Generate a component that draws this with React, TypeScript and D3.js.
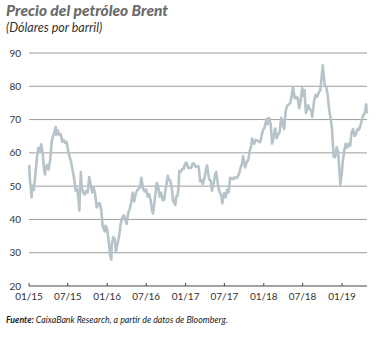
import React from "react";
import * as d3 from "d3";

const brent2015: [string, number][] = [
  ["2015-01-02", 56.4], ["2015-01-06", 51.1], ["2015-01-09", 50.1], ["2015-01-13", 46.6], ["2015-01-16", 50.2], ["2015-01-23", 48.8], ["2015-01-30", 53.0],
  ["2015-02-06", 57.8], ["2015-02-13", 61.5], ["2015-02-20", 60.2], ["2015-02-27", 62.6], ["2015-03-06", 59.7], ["2015-03-13", 54.7],
  ["2015-03-17", 53.5], ["2015-03-20", 55.3], ["2015-03-27", 56.4], ["2015-04-02", 55.0], ["2015-04-10", 57.9], ["2015-04-17", 63.5],
  ["2015-04-24", 65.3], ["2015-05-01", 66.5], ["2015-05-06", 67.8], ["2015-05-08", 65.4], ["2015-05-15", 66.8], ["2015-05-22", 65.4],
  ["2015-05-29", 65.6], ["2015-06-05", 63.3], ["2015-06-12", 63.9], ["2015-06-19", 63.0], ["2015-06-26", 63.3], ["2015-07-03", 60.3],
  ["2015-07-10", 58.7], ["2015-07-17", 57.1], ["2015-07-24", 54.6], ["2015-07-31", 52.2], ["2015-08-07", 48.6], ["2015-08-14", 49.2],
  ["2015-08-21", 45.5], ["2015-08-24", 42.7], ["2015-08-28", 50.1], ["2015-08-31", 54.2], ["2015-09-04", 49.6], ["2015-09-11", 48.1],
  ["2015-09-18", 47.5], ["2015-09-25", 48.6], ["2015-10-02", 48.1], ["2015-10-09", 52.7], ["2015-10-16", 50.5], ["2015-10-23", 48.1],
  ["2015-10-30", 49.6], ["2015-11-06", 47.4], ["2015-11-13", 43.6], ["2015-11-20", 44.7], ["2015-11-27", 44.9], ["2015-12-04", 43.0],
  ["2015-12-11", 37.9], ["2015-12-18", 36.9], ["2015-12-21", 36.4], ["2015-12-24", 38.1], ["2015-12-31", 37.3],
];

const brent2016: [string, number][] = [
  ["2016-01-08", 33.6], ["2016-01-15", 28.9], ["2016-01-20", 27.9], ["2016-01-22", 32.2], ["2016-01-29", 34.7], ["2016-02-05", 34.1],
  ["2016-02-11", 30.1], ["2016-02-19", 33.0], ["2016-02-26", 35.1], ["2016-03-04", 38.7], ["2016-03-11", 40.4], ["2016-03-18", 41.2],
  ["2016-03-24", 40.4], ["2016-04-01", 38.7], ["2016-04-08", 41.9], ["2016-04-15", 43.1], ["2016-04-22", 45.1], ["2016-04-29", 48.1],
  ["2016-05-06", 45.4], ["2016-05-13", 47.8], ["2016-05-20", 48.7], ["2016-05-27", 49.3], ["2016-06-03", 49.6], ["2016-06-08", 52.5],
  ["2016-06-17", 49.2], ["2016-06-24", 48.4], ["2016-07-01", 49.0], ["2016-07-08", 46.8], ["2016-07-15", 47.6], ["2016-07-22", 45.7],
  ["2016-07-29", 42.5], ["2016-08-02", 41.8], ["2016-08-12", 47.0], ["2016-08-19", 50.9], ["2016-08-26", 49.9], ["2016-09-02", 46.8],
  ["2016-09-09", 48.0], ["2016-09-16", 45.8], ["2016-09-23", 45.9], ["2016-09-30", 49.1], ["2016-10-07", 51.9], ["2016-10-10", 53.1],
  ["2016-10-14", 51.95], ["2016-10-21", 51.8], ["2016-10-28", 49.7], ["2016-11-04", 45.6], ["2016-11-14", 44.4], ["2016-11-18", 46.9],
  ["2016-11-25", 47.2], ["2016-11-30", 50.5], ["2016-12-02", 54.5], ["2016-12-09", 54.3], ["2016-12-16", 55.2], ["2016-12-23", 55.2],
  ["2016-12-30", 56.8],
];

const brent2017: [string, number][] = [
  ["2017-01-06", 57.1], ["2017-01-13", 55.5], ["2017-01-20", 55.5], ["2017-01-27", 55.5], ["2017-02-03", 56.8], ["2017-02-10", 56.7],
  ["2017-02-17", 55.8], ["2017-02-24", 56.0], ["2017-03-03", 55.9], ["2017-03-10", 51.4], ["2017-03-17", 51.8], ["2017-03-22", 50.6],
  ["2017-03-31", 52.8], ["2017-04-07", 55.2], ["2017-04-11", 56.2], ["2017-04-21", 52.0], ["2017-04-28", 51.7], ["2017-05-04", 48.6],
  ["2017-05-12", 50.8], ["2017-05-19", 53.6], ["2017-05-24", 54.2], ["2017-06-02", 49.95], ["2017-06-09", 48.2], ["2017-06-16", 47.4],
  ["2017-06-21", 44.8], ["2017-06-30", 47.9], ["2017-07-07", 46.7], ["2017-07-14", 48.9], ["2017-07-21", 48.1], ["2017-07-28", 52.5],
  ["2017-08-04", 52.4], ["2017-08-11", 52.1], ["2017-08-18", 52.7], ["2017-08-25", 52.4], ["2017-09-01", 52.75], ["2017-09-08", 53.8],
  ["2017-09-15", 55.6], ["2017-09-22", 56.9], ["2017-09-26", 59.0], ["2017-10-06", 55.6], ["2017-10-13", 57.2], ["2017-10-20", 57.75],
  ["2017-10-27", 60.4], ["2017-11-03", 62.1], ["2017-11-07", 64.3], ["2017-11-17", 62.7], ["2017-11-24", 63.9], ["2017-12-01", 63.7],
  ["2017-12-08", 63.4], ["2017-12-15", 63.2], ["2017-12-22", 65.3], ["2017-12-29", 66.9],
];

const brent2018: [string, number][] = [
  ["2018-01-05", 67.6], ["2018-01-12", 69.9], ["2018-01-15", 70.3], ["2018-01-19", 68.6], ["2018-01-26", 70.5], ["2018-02-02", 68.6],
  ["2018-02-09", 62.8], ["2018-02-16", 64.8], ["2018-02-23", 67.3], ["2018-03-02", 64.4], ["2018-03-09", 65.5], ["2018-03-16", 66.2],
  ["2018-03-23", 70.5], ["2018-03-29", 69.3], ["2018-04-06", 67.1], ["2018-04-13", 72.6], ["2018-04-20", 74.1], ["2018-04-27", 74.6],
  ["2018-05-04", 74.9], ["2018-05-11", 77.1], ["2018-05-17", 79.8], ["2018-05-25", 76.4], ["2018-06-01", 76.8], ["2018-06-08", 76.5],
  ["2018-06-15", 73.4], ["2018-06-22", 75.6], ["2018-06-29", 79.4], ["2018-07-06", 77.1], ["2018-07-10", 78.9], ["2018-07-13", 75.3],
  ["2018-07-17", 72.0], ["2018-07-27", 74.3], ["2018-08-03", 73.2], ["2018-08-10", 72.8], ["2018-08-15", 70.8], ["2018-08-24", 75.8],
  ["2018-08-31", 77.4], ["2018-09-07", 76.8], ["2018-09-14", 78.1], ["2018-09-21", 78.8], ["2018-09-28", 82.7], ["2018-10-03", 86.3],
  ["2018-10-12", 80.4], ["2018-10-19", 79.8], ["2018-10-26", 77.6], ["2018-11-02", 73.0], ["2018-11-09", 70.2], ["2018-11-16", 66.8],
  ["2018-11-23", 58.8], ["2018-11-30", 58.7], ["2018-12-07", 61.7], ["2018-12-14", 60.3], ["2018-12-21", 53.8], ["2018-12-24", 50.5],
  ["2018-12-28", 52.2], ["2018-12-31", 53.8],
];

const brent2019: [string, number][] = [
  ["2019-01-04", 57.1], ["2019-01-11", 60.5], ["2019-01-18", 62.7], ["2019-01-25", 61.6], ["2019-02-01", 62.75], ["2019-02-08", 62.1],
  ["2019-02-15", 66.25], ["2019-02-22", 67.1], ["2019-03-01", 65.1], ["2019-03-08", 65.7], ["2019-03-15", 67.2], ["2019-03-22", 67.0],
  ["2019-03-29", 68.4], ["2019-04-05", 70.3], ["2019-04-12", 71.55], ["2019-04-18", 71.97], ["2019-04-24", 74.6], ["2019-04-26", 72.2],
  ["2019-04-30", 72.4],
];

const yTicks = [20, 30, 40, 50, 60, 70, 80, 90];
const xTickDates = ["2015-01-01", "2015-07-01", "2016-01-01", "2016-07-01", "2017-01-01", "2017-07-01", "2018-01-01", "2018-07-01", "2019-01-01"];
const xTickLabels = ["01/15", "07/15", "01/16", "07/16", "01/17", "07/17", "01/18", "07/18", "01/19"];

const title = "Precio del petróleo Brent";
const subtitle = "(Dólares por barril)";
const sourceBold = "Fuente:";
const sourceText = " CaixaBank Research, a partir de datos de Bloomberg.";

const FONT = "Lato, 'Open Sans', sans-serif";

export default function App() {
  const W = 381, H = 338;
  const parse = d3.timeParse("%Y-%m-%d");
  const data = [...brent2015, ...brent2016, ...brent2017, ...brent2018, ...brent2019].map(
    ([d, v]) => ({ date: parse(d) as Date, value: v })
  );
  const x = d3.scaleTime()
    .domain([parse("2015-01-01") as Date, parse("2019-01-01") as Date])
    .range([29, 342]);
  const y = d3.scaleLinear().domain([20, 90]).range([286, 53]);
  const line = d3.line<{ date: Date; value: number }>()
    .x((d) => x(d.date))
    .y((d) => y(d.value));
  const x0 = 29, x1 = 367;

  return (
    <svg width={W} height={H} style={{ position: "absolute", left: 0, top: 0, background: "#fff" }}>
      <text x={6} y={15.5} fontFamily={FONT} fontWeight={900} fontStyle="italic" fontSize={15.5} fill="#6b6b6b">{title}</text>
      <text x={6} y={31.5} fontFamily={FONT} fontStyle="italic" fontSize={12.5} fill="#333">{subtitle}</text>

      {yTicks.map((t) => (
        <g key={t}>
          {t > 20 && <line x1={x0} x2={x1} y1={y(t)} y2={y(t)} stroke="#9e9e9e" strokeWidth={1} />}
          <text x={21} y={y(t) + 3.5} textAnchor="end" fontFamily={FONT} fontSize={10} fill="#333">{t}</text>
        </g>
      ))}

      <path d={line(data) || ""} fill="none" stroke="#b6c4c9" strokeWidth={2.6} strokeLinejoin="round" />

      <line x1={x0} x2={x1} y1={y(20)} y2={y(20)} stroke="#444" strokeWidth={1} />
      {xTickDates.map((d, i) => {
        const xx = x(parse(d) as Date);
        return (
          <g key={d}>
            <line x1={xx} x2={xx} y1={y(20) - 3} y2={y(20)} stroke="#444" strokeWidth={1} />
            <text x={xx} y={300} textAnchor="middle" fontFamily={FONT} fontSize={10} fill="#333">{xTickLabels[i]}</text>
          </g>
        );
      })}

      <text x={6} y={323} fontFamily={FONT} fontStyle="italic" fontSize={8.8} fill="#222">
        <tspan fontWeight={700}>{sourceBold}</tspan>
        <tspan>{sourceText}</tspan>
      </text>
    </svg>
  );
}
